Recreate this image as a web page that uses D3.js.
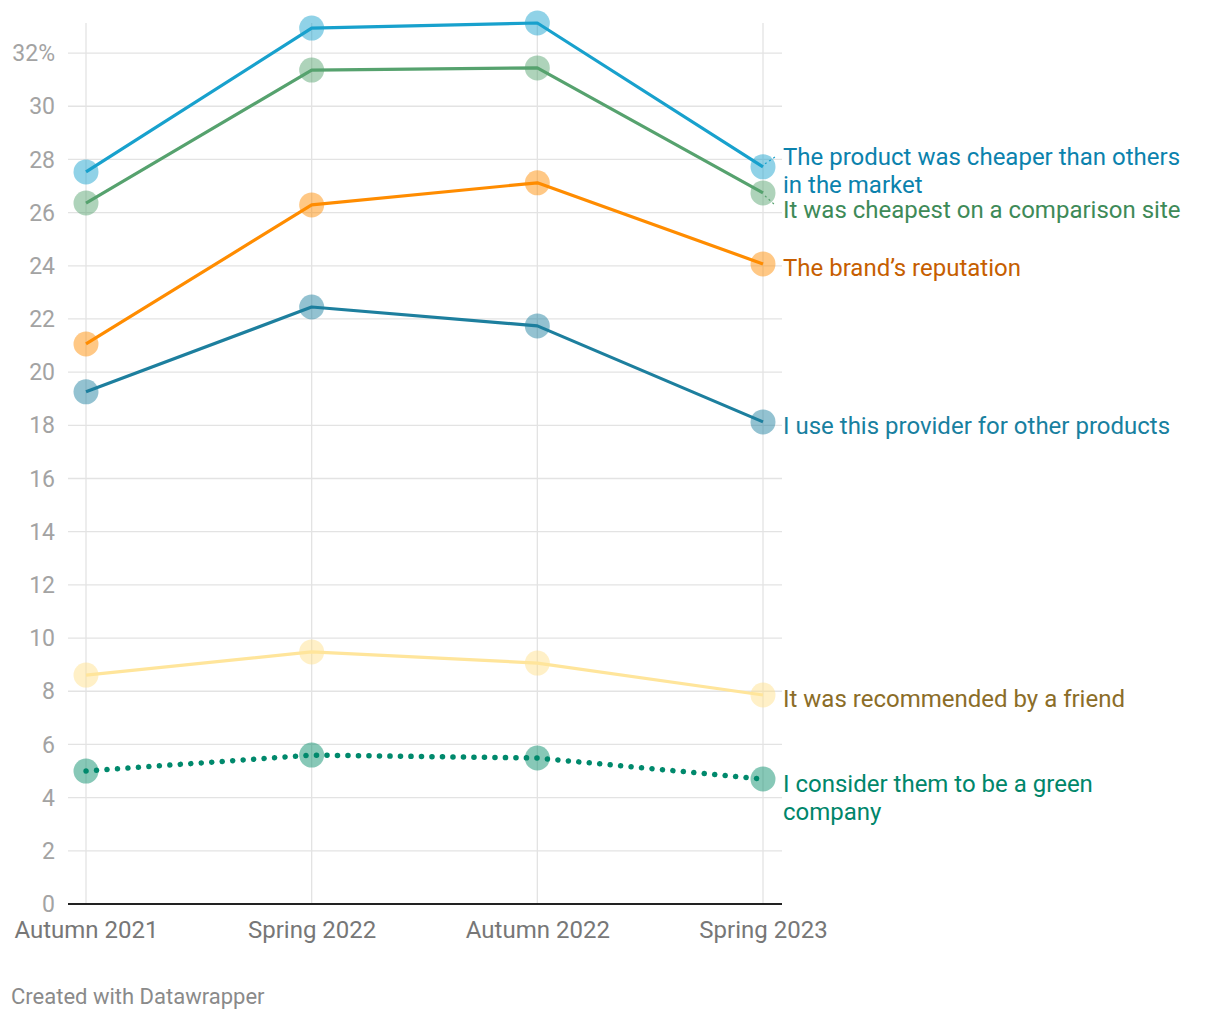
<!DOCTYPE html>
<html><head><meta charset="utf-8">
<script src="https://cdn.jsdelivr.net/npm/d3@7"></script>
<style>
html,body{margin:0;padding:0;background:#fff;}
svg{display:block;font-family:Roboto,"Noto Sans",sans-serif;}
</style></head>
<body>
<svg id="chart" width="1220" height="1020"></svg>
<script>
const periods = ["Autumn 2021","Spring 2022","Autumn 2022","Spring 2023"];
const yTicks = [0,2,4,6,8,10,12,14,16,18,20,22,24,26,28,30,32];
const cheaperThanOthers = [27.53, 32.94, 33.13, 27.72];
const cheapestComparison = [26.36, 31.36, 31.44, 26.74];
const brandReputation = [21.06, 26.29, 27.12, 24.07];
const otherProducts = [19.26, 22.45, 21.74, 18.13];
const recommendedFriend = [8.61, 9.48, 9.06, 7.86];
const greenCompany = [5.0, 5.6, 5.49, 4.7];

const seriesList = [
  {name:["The product was cheaper than others","in the market"], values:cheaperThanOthers, line:"#18a1cd", dot:"#18a1cd", text:"#0b82ad", labelY:165, dash:null},
  {name:["It was cheapest on a comparison site"], values:cheapestComparison, line:"#56a26e", dot:"#56a26e", text:"#3e8a58", labelY:218, dash:null},
  {name:["The brand\u2019s reputation"], values:brandReputation, line:"#ff8c00", dot:"#ff8c00", text:"#c65e00", labelY:276, dash:null},
  {name:["I use this provider for other products"], values:otherProducts, line:"#1d7f9e", dot:"#1d7f9e", text:"#18809f", labelY:434, dash:null},
  {name:["It was recommended by a friend"], values:recommendedFriend, line:"#ffe59b", dot:"#ffe08a", text:"#8b6d28", labelY:707, dash:null},
  {name:["I consider them to be a green","company"], values:greenCompany, line:"#00896c", dot:"#10926f", text:"#00866a", labelY:792, dash:"0.1,10.4"}
];

const svg = d3.select("#chart");
const x = d3.scalePoint().domain(periods).range([86, 763]);
const y = d3.scaleLinear().domain([0, 33.13]).range([904, 23]);

const gGrid = svg.append("g");
gGrid.selectAll("line.h").data(yTicks.filter(d=>d>0)).enter().append("line")
  .attr("x1",68).attr("x2",782).attr("y1",d=>y(d)).attr("y2",d=>y(d))
  .attr("stroke","#e3e3e3").attr("stroke-width",1.3);
gGrid.selectAll("line.v").data(periods).enter().append("line")
  .attr("x1",d=>x(d)).attr("x2",d=>x(d)).attr("y1",y(33.13)).attr("y2",904)
  .attr("stroke","#e3e3e3").attr("stroke-width",1.3);

const yAxis = d3.axisLeft(y).tickValues(yTicks).tickSize(0).tickPadding(0)
  .tickFormat(d=> d===32 ? "32%" : d);
const gy = svg.append("g").attr("transform","translate(55,0)").call(yAxis);
gy.select(".domain").remove();
gy.selectAll("text").attr("font-size",23).attr("fill","#a3a3a3").attr("font-family","Roboto").attr("dy","0.33em");

const xAxis = d3.axisBottom(x).tickSize(0).tickPadding(0);
const gx = svg.append("g").attr("transform","translate(0,904)").call(xAxis);
gx.select(".domain").remove();
gx.selectAll("text").attr("font-size",24).attr("fill","#777").attr("font-family","Roboto").attr("y",34).attr("dy",0);

svg.append("line").attr("x1",68).attr("x2",782).attr("y1",y(0)).attr("y2",y(0))
  .attr("stroke","#222").attr("stroke-width",2);

const line = d3.line().x((d,i)=>x(periods[i])).y(d=>y(d));

seriesList.forEach(s=>{
  const g = svg.append("g");
  g.selectAll("circle").data(s.values).enter().append("circle")
    .attr("cx",(d,i)=>x(periods[i])).attr("cy",d=>y(d)).attr("r",12.5)
    .attr("fill",s.dot).attr("fill-opacity",s.dash?0.5:0.48);
  const p = g.append("path").attr("d",line(s.values)).attr("fill","none")
    .attr("stroke",s.line).attr("stroke-width",s.dash?5.5:3.2)
    .attr("stroke-linejoin","round");
  if(s.dash){ p.attr("stroke-dasharray",s.dash).attr("stroke-linecap","round"); }
  const t = g.append("text").attr("x",783).attr("y",s.labelY)
    .attr("font-size",24).attr("fill",s.text).attr("font-family","Roboto");
  s.name.forEach((n,i)=>{
    t.append("tspan").attr("x",783).attr("dy",i===0?0:28).text(n);
  });
});

svg.append("line").attr("x1",765).attr("y1",y(cheaperThanOthers[3])-3).attr("x2",775).attr("y2",157)
  .attr("stroke","#18a1cd").attr("stroke-width",1.2).attr("stroke-dasharray","2,3");
svg.append("line").attr("x1",765).attr("y1",y(cheapestComparison[3])+3).attr("x2",775).attr("y2",205)
  .attr("stroke","#56a26e").attr("stroke-width",1.2).attr("stroke-dasharray","2,3");

svg.append("text").attr("x",11).attr("y",1004).attr("font-size",22).attr("fill","#8a8a8a")
  .attr("font-family","Roboto").text("Created with Datawrapper");
</script>
</body></html>
